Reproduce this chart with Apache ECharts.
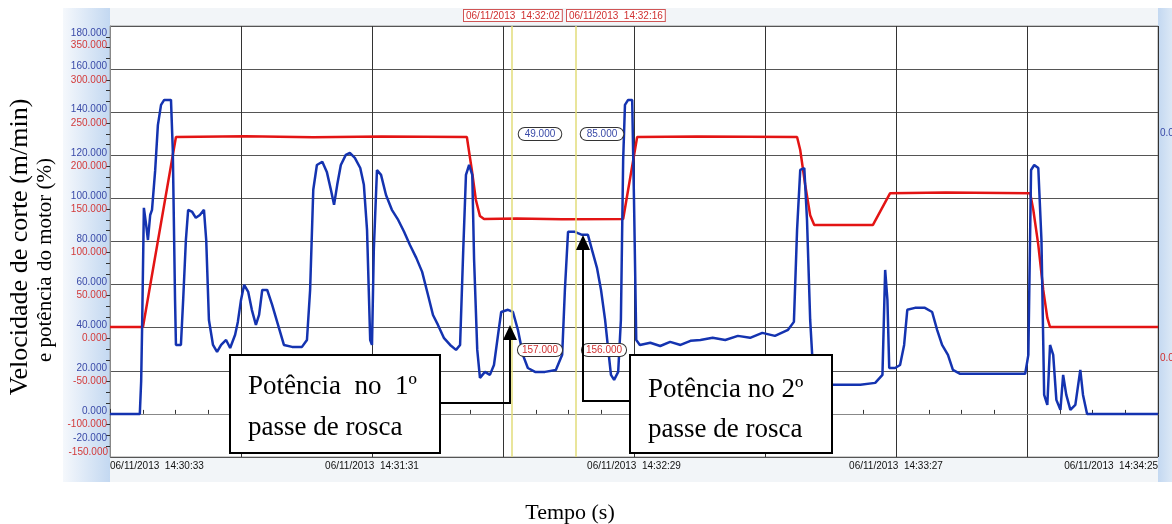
<!DOCTYPE html>
<html><head><meta charset="utf-8">
<script src="https://cdn.jsdelivr.net/npm/echarts@6/dist/echarts.min.js"></script>
<style>html,body{margin:0;padding:0;background:#fff;}#c{width:1172px;height:524px;}</style>
</head><body><div id="c"></div>
<script>
// time in seconds after 06/11/2013 14:30:33
const tickLabels = ['06/11/2013  14:30:33','06/11/2013  14:31:31','06/11/2013  14:32:29','06/11/2013  14:33:27','06/11/2013  14:34:25'];
const powerData = [[0,0],[6.6,0],[6.9,15.3],[7.1,39],[7.5,95.6],[8.0,87.7],[8.4,80.7],[8.9,92.3],[9.3,94.7],[10.0,113],[10.6,134],[11.3,143.4],[12.0,145.7],[13.5,145.7],[13.9,122.5],[14.4,52.9],[14.6,32],[15.7,32],[16.2,53],[16.8,80.7],[17.3,94.7],[18.2,93.7],[19.0,91],[19.9,92.3],[20.8,94.7],[21.3,80.7],[21.9,43.6],[22.8,32],[23.7,28.8],[24.6,32],[25.7,34.3],[26.6,30.6],[27.7,36.7],[28.3,42.7],[29.0,52.9],[29.7,59.9],[30.6,56.6],[31.4,48.3],[32.3,41.3],[33.0,45.9],[33.7,57.5],[34.8,57.5],[35.9,50.6],[37.2,41.3],[38.5,32],[40.3,31.1],[42.5,31.1],[43.6,34.3],[44.3,57.5],[45.0,104],[45.8,115.5],[47.0,117],[48.0,112.3],[48.9,104],[49.6,97],[50.3,106.3],[51.1,115.5],[52.2,120.2],[53.1,121.1],[54.2,118.8],[55.4,114.1],[56.2,106.3],[56.9,85.4],[57.6,34.3],[58.0,32],[58.4,76.1],[59.1,113.2],[60.0,110.9],[61.1,101.6],[62.4,94.7],[63.8,90],[65.1,84.5],[66.4,78.4],[67.8,72.4],[69.1,65.9],[70.4,55.2],[71.5,45.9],[72.6,41.3],[73.9,35.3],[75.3,32],[76.6,29.7],[77.5,32],[78.2,76.1],[78.8,110.9],[79.5,115.5],[80.2,110.9],[80.6,71.5],[81.3,29.7],[81.9,16.7],[83.0,19.5],[84.1,18.1],[85.0,22.7],[85.9,36.7],[86.6,47.3],[88.1,48.3],[89.2,47.3],[90.3,39],[91.4,27.4],[92.5,21.3],[94.1,19.5],[96.3,19.5],[98.7,20.4],[100.1,27.4],[100.7,57.5],[101.4,84.5],[102.9,84.5],[104.5,83.1],[105.8,83.1],[106.7,76.1],[107.8,67.8],[108.7,57.5],[109.6,43.6],[110.3,29.7],[110.9,18.1],[111.6,15.8],[112.5,19.5],[113.1,43.6],[113.6,117.9],[114.0,143.4],[114.7,145.7],[115.6,145.7],[116.0,99.3],[116.5,34.3],[117.3,32],[119.6,33],[121.8,31.5],[124.0,33.4],[126.3,32],[128.5,33.9],[130.7,34.3],[133.4,35.3],[136.2,34.3],[139.0,36.2],[141.7,35.3],[144.4,37.6],[147.2,36.2],[150.1,39],[151.4,42.7],[152.1,85.4],[152.8,113.2],[153.7,114.1],[154.3,90],[155.0,43.6],[155.7,18.1],[156.8,14.8],[158.3,13.5],[161.6,13.5],[166.1,13.5],[169.4,14.4],[171.0,18.1],[171.6,66.8],[172.1,52.9],[172.5,21.3],[173.8,21.3],[174.9,22.7],[175.8,32],[176.5,48.3],[178.2,49.2],[180.4,49.2],[182.0,47.3],[183.1,39],[184.2,32],[185.5,27.4],[186.6,20.4],[188.2,18.6],[194.8,18.6],[202.6,18.6],[203.3,27.4],[203.9,113.2],[204.6,115.5],[205.5,114.1],[206.2,80.7],[206.8,8.8],[207.5,4.2],[208.1,32],[208.8,27.4],[209.5,6.5],[210.4,1.9],[211.0,18.1],[211.7,8.8],[212.6,1.9],[213.7,4.2],[214.8,20.4],[215.4,8.8],[216.3,0],[232,0]];
const speedData = [[0,13.3],[7.3,13.3],[14.6,233.8],[30,234.5],[45,233.5],[60,234.2],[79.0,233.8],[80.1,195.5],[81.0,160.7],[81.9,142],[82.8,138.6],[90,139.2],[100,138.2],[113.6,138.6],[116.7,233.8],[130,234.3],[152.1,233.8],[152.8,218.7],[153.9,178],[155.0,143],[155.9,131.7],[168.9,131.7],[172.7,168.6],[185,169.2],[203.7,168.6],[204.4,149],[205.5,108.5],[206.6,56.3],[207.5,23.8],[208.1,13.3],[232,13.3]];
const cursorT = [89, 103];
const cursorLabels = ['06/11/2013  14:32:02','06/11/2013  14:32:16'];
const powerReadouts = ['49.000','85.000'];
const speedReadouts = ['157.000','156.000'];

const chart = echarts.init(document.getElementById('c'), null, {renderer:'canvas'});
const lab = {fontFamily:'Liberation Sans, Arial, sans-serif', fontSize:10};
const serif = 'Liberation Serif, Times New Roman, serif';
const option = {
  animation:false,
  backgroundColor:'#fff',
  grid:{left:110,right:14,top:26,bottom:67,show:true,backgroundColor:'#fff',borderColor:'#9a9a9a',borderWidth:1},
  xAxis:{type:'value',min:0,max:232,interval:29,
    axisLine:{show:true,lineStyle:{color:'#888'}},
    axisTick:{show:true,inside:true,length:5,lineStyle:{color:'#333'}},
    minorTick:{show:true,splitNumber:4,length:4,lineStyle:{color:'#333'}},
    splitLine:{show:true,lineStyle:{color:'#333',width:1}},
    axisLabel:Object.assign({color:'#111',margin:4,alignMinLabel:'left',alignMaxLabel:'right',
      formatter:v=>{const k=Math.round(v/58);return Math.abs(v-k*58)<1e-6?tickLabels[k]:'';}},lab)
  },
  yAxis:[
    {type:'value',min:-20,max:180,interval:20,position:'left',
      axisLine:{show:true,lineStyle:{color:'#888'}},
      axisTick:{show:false},
      minorTick:{show:true,splitNumber:4,length:4,lineStyle:{color:'#333'}},
      splitLine:{show:true,lineStyle:{color:'#555',width:1}},
      axisLabel:Object.assign({color:'#3a4aa8',margin:3,padding:[0,0,5,0],
        formatter:v=>{const s=v.toFixed(3);if(v===180)return '{t|'+s+'}';if(v===-20)return '{b|'+s+'}';return s;},
        rich:{t:{fontSize:10,color:'#3a4aa8',fontFamily:lab.fontFamily,padding:[20,0,0,0]},b:{fontSize:10,color:'#3a4aa8',fontFamily:lab.fontFamily,padding:[0,0,32,0]}}},lab)
    },
    {type:'value',min:-137.5,max:362.5,position:'left',offset:0,
      axisLine:{show:false},axisTick:{show:false},splitLine:{show:false},
      axisLabel:Object.assign({color:'#d23a3a',margin:3,customValues:[-100,-50,0,50,100,150,200,250,300,350],
        formatter:v=>{const s=v.toFixed(3);if(v===350)return '{t|'+s+'}';return s;},
        rich:{t:{fontSize:10,color:'#d23a3a',fontFamily:lab.fontFamily,padding:[16,0,0,0]}}},lab)
    }
  ],
  series:[
    {name:'Velocidade',type:'line',yAxisIndex:1,data:speedData,showSymbol:false,lineStyle:{color:'#e31414',width:2.5},z:3},
    {name:'Potência',type:'line',yAxisIndex:0,data:powerData,showSymbol:false,lineStyle:{color:'#1433b0',width:2.5},z:4,
      markLine:{silent:true,symbol:'none',label:{show:false},lineStyle:{color:'#e2dc7a',width:1.5,type:'solid'},
        data:cursorT.map(t=>({xAxis:t}))}}
  ],
  graphic:[
    {type:'rect',z:-100,silent:true,shape:{x:63,y:8,width:1109,height:474},style:{fill:'#f2f5f8'}},
    {type:'rect',z:-99,silent:true,shape:{x:63,y:8,width:47,height:474},style:{fill:new echarts.graphic.LinearGradient(0,0,1,0,[{offset:0,color:'#f5f8fc'},{offset:1,color:'#c3d8f1'}])}},
    {type:'rect',z:-99,silent:true,shape:{x:1158,y:8,width:14,height:474},style:{fill:new echarts.graphic.LinearGradient(0,0,1,0,[{offset:0,color:'#c3d8f1'},{offset:1,color:'#dce8f6'}])}},
    // cursor time boxes
    {type:'text',z:50,left:463,top:9,style:{text:cursorLabels[0],fill:'#d03030',font:'10px Liberation Sans, Arial',backgroundColor:'#fff',borderColor:'#d05555',borderWidth:1,padding:[1,2,0,2]}},
    {type:'text',z:50,left:566,top:9,style:{text:cursorLabels[1],fill:'#d03030',font:'10px Liberation Sans, Arial',backgroundColor:'#fff',borderColor:'#d05555',borderWidth:1,padding:[1,2,0,2]}},
    // readouts
    {type:'text',z:50,x:540,y:134,style:{text:powerReadouts[0],align:'center',verticalAlign:'middle',fill:'#3a4aa8',font:'10px Liberation Sans, Arial',backgroundColor:'#fff',borderColor:'#333',borderWidth:1,borderRadius:7,padding:[1,6,1,6]}},
    {type:'text',z:50,x:602,y:134,style:{text:powerReadouts[1],align:'center',verticalAlign:'middle',fill:'#3a4aa8',font:'10px Liberation Sans, Arial',backgroundColor:'#fff',borderColor:'#333',borderWidth:1,borderRadius:7,padding:[1,6,1,6]}},
    {type:'text',z:50,x:540,y:350,style:{text:speedReadouts[0],align:'center',verticalAlign:'middle',fill:'#d03030',font:'10px Liberation Sans, Arial',backgroundColor:'#fff',borderColor:'#333',borderWidth:1,borderRadius:7,padding:[1,4,1,4]}},
    {type:'text',z:50,x:604,y:350,style:{text:speedReadouts[1],align:'center',verticalAlign:'middle',fill:'#d03030',font:'10px Liberation Sans, Arial',backgroundColor:'#fff',borderColor:'#333',borderWidth:1,borderRadius:7,padding:[1,4,1,4]}},
    // right-side clipped labels
    {type:'text',z:50,x:1160,y:133,style:{text:'0.0',verticalAlign:'middle',fill:'#3a4aa8',font:'10px Liberation Sans, Arial'}},
    {type:'text',z:50,x:1160,y:358,style:{text:'0.0',verticalAlign:'middle',fill:'#d03030',font:'10px Liberation Sans, Arial'}},
    {type:'text',z:50,x:108,y:452,style:{text:'-150.000',align:'right',verticalAlign:'middle',fill:'#d23a3a',font:'10px Liberation Sans, Arial'}},
    // annotation box 1
    {type:'rect',z:60,shape:{x:230,y:355,width:210,height:98},style:{fill:'#fff',stroke:'#000',lineWidth:2}},
    {type:'text',z:61,x:248,y:387,style:{text:'Potência  no  1º',verticalAlign:'middle',fill:'#000',font:'27px '+serif}},
    {type:'text',z:61,x:248,y:428,style:{text:'passe de rosca',verticalAlign:'middle',fill:'#000',font:'27px '+serif}},
    {type:'polyline',z:60,shape:{points:[[440,403],[510,403],[510,340]]},style:{stroke:'#000',lineWidth:2,fill:null}},
    {type:'polygon',z:60,shape:{points:[[510,325],[503,340],[517,340]]},style:{fill:'#000'}},
    // annotation box 2
    {type:'rect',z:60,shape:{x:630,y:355,width:202,height:98},style:{fill:'#fff',stroke:'#000',lineWidth:2}},
    {type:'text',z:61,x:648,y:390,style:{text:'Potência no 2º',verticalAlign:'middle',fill:'#000',font:'27px '+serif}},
    {type:'text',z:61,x:648,y:430,style:{text:'passe de rosca',verticalAlign:'middle',fill:'#000',font:'27px '+serif}},
    {type:'polyline',z:60,shape:{points:[[630,401],[583,401],[583,250]]},style:{stroke:'#000',lineWidth:2,fill:null}},
    {type:'polygon',z:60,shape:{points:[[583,235],[576,250],[590,250]]},style:{fill:'#000'}},
    // axis titles
    {type:'text',z:50,x:20,y:247,rotation:Math.PI/2,style:{text:'Velocidade de corte (m/min)',align:'center',verticalAlign:'middle',fill:'#000',font:'26px '+serif}},
    {type:'text',z:50,x:45,y:260,rotation:Math.PI/2,style:{text:'e potência do motor (%)',align:'center',verticalAlign:'middle',fill:'#000',font:'21px '+serif}},
    {type:'text',z:50,x:570,y:513,style:{text:'Tempo (s)',align:'center',verticalAlign:'middle',fill:'#000',font:'22px '+serif}}
  ]
};
chart.setOption(option);
</script></body></html>
